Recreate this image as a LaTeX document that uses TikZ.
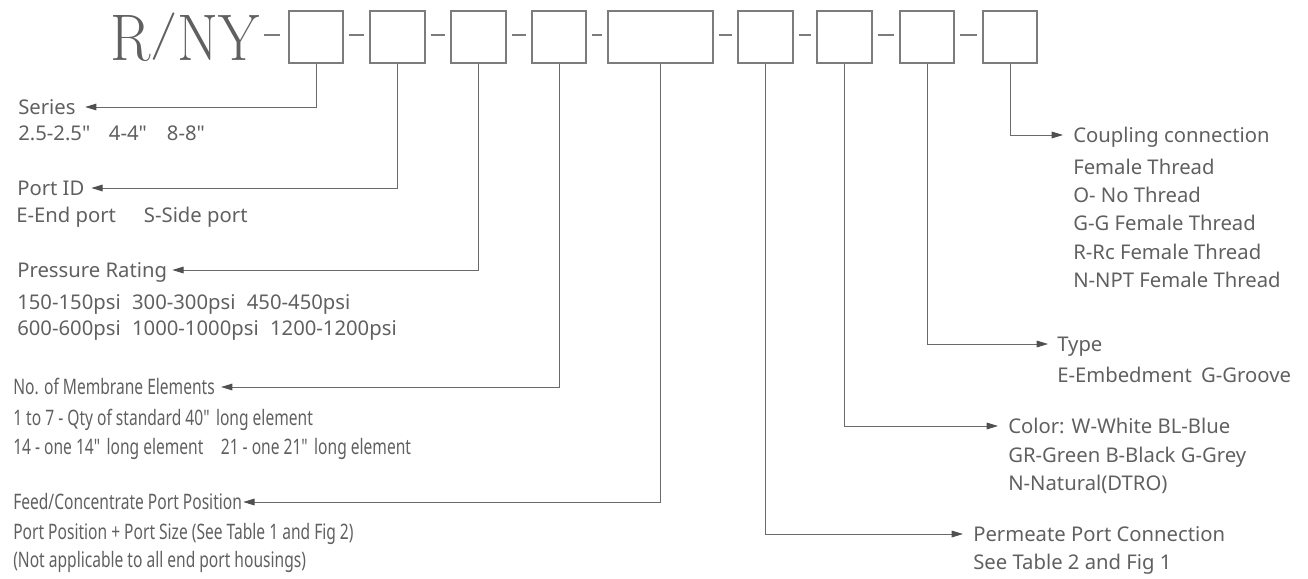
\documentclass[tikz,border=0pt]{standalone}
\usepackage{fontspec}
\setmainfont{Noto Sans}
\newfontfamily\narrowfont{Noto Sans}[FakeStretch=0.73]
\newfontfamily\bigserif{Latin Modern Roman}
\usetikzlibrary{arrows.meta,calc}
\definecolor{txt}{HTML}{606060}
\definecolor{boxln}{HTML}{7C7C7C}
\definecolor{conln}{HTML}{6A6A6A}
\definecolor{arrc}{HTML}{505050}
\newcommand{\qd}{\textquotedbl}
\begin{document}
\begin{tikzpicture}[x=0.75pt,y=-0.75pt,
  codebox/.style={draw=boxln, line width=0.9pt, minimum height=39pt, minimum width=#1, inner sep=0pt},
  dashl/.style={draw=boxln, line width=0.9pt},
  conn/.style={draw=conln, line width=0.75pt, -{Triangle[length=8.5pt,width=5pt,color=arrc]}},
  lbl/.style={font=\fontsize{15.2}{18}\selectfont, text=txt, anchor=west, inner sep=0pt, text height=10.8pt, text depth=0pt},
  nlbl/.style={lbl, font=\narrowfont\fontsize{16}{18}\selectfont}]
\useasboundingbox (0,0) rectangle (1308,578);

% title
\node[anchor=base west, inner sep=0pt, text=txt, font=\bigserif\fontsize{49.4}{50}\selectfont] (rny) at (110,60) {\scalebox{0.9}[1]{R\raisebox{0.18em}{\scalebox{1}[0.72]{/}}NY}};

% code boxes
\node[codebox=40.5pt] (b1) at (316,37) {};
\node[codebox=41.25pt] (b2) at (397.5,37) {};
\node[codebox=41.25pt] (b3) at (478.5,37) {};
\node[codebox=40.5pt] (b4) at (559,37) {};
\node[codebox=78.75pt] (b5) at (660.5,37) {};
\node[codebox=41.25pt] (b6) at (765.5,37) {};
\node[codebox=41.25pt] (b7) at (844.5,37) {};
\node[codebox=40.5pt] (b8) at (927,37) {};
\node[codebox=40.5pt] (b9) at (1010,37) {};

% dashes
\draw[dashl] ($(b1.west)+(-24,-2)$) -- ($(b1.west)+(-8,-2)$);
\foreach \a/\b in {b1/b2,b2/b3,b3/b4,b4/b5,b5/b6,b6/b7,b7/b8,b8/b9}
  \draw[dashl] ($(\a.east)+(5,-2)$) -- ($(\b.west)+(-5,-2)$);

% left labels
\node[lbl] (series) at (18,107) {Series};
\node[lbl] (series1) at (18,133) {2.5-2.5\qd\hspace{14pt}4-4\qd\hspace{15pt}8-8\qd};

\node[lbl] (portid) at (17,188) {Port ID};
\node[lbl] (portid1) at (16,215) {E-End port\hspace{21pt}S-Side port};

\node[lbl] (press) at (17,270) {Pressure Rating};
\node[lbl] (press1) at (17,302) {150-150psi\hspace{8.5pt}300-300psi\hspace{8.5pt}450-450psi};
\node[lbl] (press2) at (17,328) {600-600psi\hspace{8.5pt}1000-1000psi\hspace{8.5pt}1200-1200psi};

\node[nlbl] (memb) at (13,387) {No. of Membrane Elements};
\node[nlbl] (memb1) at (13,418) {1 to 7 - Qty of standard 40\qd\ long element};
\node[nlbl] (memb2) at (13,447) {14 - one 14\qd\ long element\hspace{13pt}21 - one 21\qd\ long element};

\node[nlbl] (feed) at (13,502) {Feed/Concentrate Port Position};
\node[nlbl] (feed1) at (13,532) {Port Position + Port Size (See Table 1 and Fig 2)};
\node[nlbl] (feed2) at (13,560) {(Not applicable to all end port housings)};

% right labels
\node[lbl] (coup) at (1073,135) {Coupling connection};
\node[lbl] (coup1) at (1073,167) {Female Thread};
\node[lbl] (coup2) at (1073,195) {O- No Thread};
\node[lbl] (coup3) at (1073,223) {G-G Female Thread};
\node[lbl] (coup4) at (1073,252) {R-Rc Female Thread};
\node[lbl] (coup5) at (1073,280) {N-NPT Female Thread};

\node[lbl] (type) at (1057,344) {Type};
\node[lbl] (type1) at (1057,375) {E-Embedment\hspace{7pt}G-Groove};

\node[lbl] (color) at (1008,426) {Color: W-White BL-Blue};
\node[lbl] (color1) at (1008,455) {GR-Green B-Black G-Grey};
\node[lbl] (color2) at (1008,483) {N-Natural(DTRO)};

\node[lbl] (perm) at (973,534) {Permeate Port Connection};
\node[lbl] (perm1) at (973,562) {See Table 2 and Fig 1};

% connectors
\draw[conn, shorten >=7pt] (b1.south) |- (series.east);
\draw[conn, shorten >=5pt] (b2.south) |- (portid.east);
\draw[conn, shorten >=3.75pt] (b3.south) |- (press.east);
\draw[conn, shorten >=4.5pt] (b4.south) |- (memb.east);
\draw[conn, shorten >=0.75pt] (b5.south) |- (feed.east);
\draw[conn, shorten >=7.5pt] (b6.south) |- (perm.west);
\draw[conn, shorten >=7.5pt] (b7.south) |- (color.west);
\draw[conn, shorten >=6.75pt] (b8.south) |- (type.west);
\draw[conn, shorten >=7.5pt] (b9.south) |- (coup.west);
\end{tikzpicture}
\end{document}
